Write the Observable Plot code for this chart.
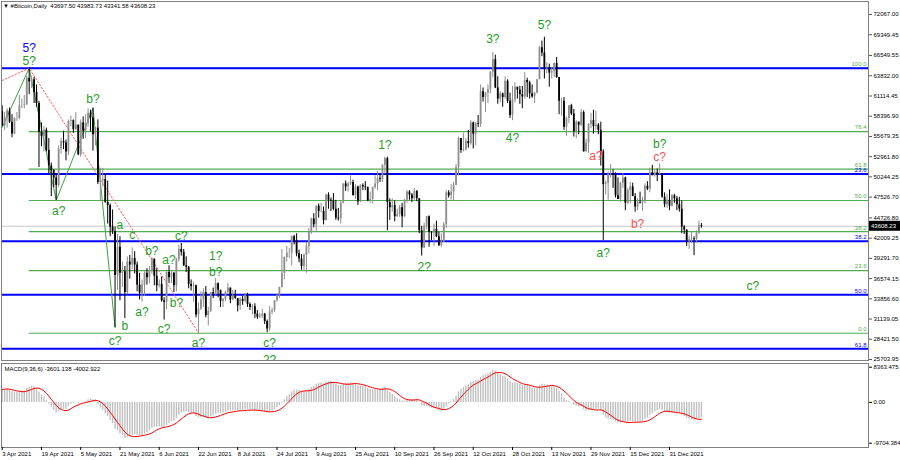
<!DOCTYPE html>
<html><head><meta charset="utf-8">
<script src="https://cdn.jsdelivr.net/npm/d3@7"></script>
<script src="https://cdn.jsdelivr.net/npm/@observablehq/plot@0.6"></script>
<style>
body{margin:0;background:#fff;font-family:"Liberation Sans",Arial,sans-serif;}
#wrap{position:relative;width:900px;height:460px;overflow:hidden;background:#fff;}
#main{position:absolute;left:0;top:0;}
#macd{position:absolute;left:0;top:361px;}
#hdr{position:absolute;left:3px;top:2px;font-size:6px;line-height:8px;color:#000;white-space:pre;}
</style></head>
<body><div id="wrap"><div id="main"></div><div id="macd"></div><div id="hdr"></div></div>
<script>
// ---------- data (prices in thousands USD) ----------
const startDate = "2021-04-03";
const firstOpen = 59.0;
const headerText = "\u25BC #Bitcoin,Daily  43697.50 43983.73 43341.58 43608.23";
const macdTitle = "MACD(9,36,6) -3601.138 -4002.922";

const closes = [
 57.1,58.2,59.1,57.6,56.0,58.1,58.1,59.8,59.8,59.9,63.5,63.0,63.3,61.6,60.1,56.2,55.7,56.5,53.8,51.7,51.1,50.1,49.1,54.0,55.0,54.8,53.6,57.7,
 57.8,56.6,57.2,53.2,57.5,56.4,57.4,58.8,58.2,55.9,56.8,49.5,49.7,49.9,46.8,46.4,43.5,42.9,37.0,40.8,37.3,37.5,34.7,38.8,38.4,39.3,38.4,35.7,34.6,35.7,37.3,
 36.7,37.6,39.2,36.9,35.6,35.8,33.6,33.4,37.4,36.7,37.3,35.6,39.1,40.5,40.1,38.3,38.1,35.8,35.5,35.6,31.7,32.5,33.7,34.7,31.6,32.2,34.7,34.5,35.9,35.0,
 33.5,33.8,34.7,35.3,33.7,34.2,33.9,32.9,33.8,33.5,34.3,33.1,32.7,32.8,31.8,31.4,31.5,31.8,30.8,29.8,32.1,32.3,33.6,34.3,35.4,37.3,39.4,40.0,40.0,42.2,41.6,
 39.9,39.2,38.2,39.7,40.9,42.8,44.6,43.8,46.3,45.6,45.6,44.4,47.8,47.1,47.0,45.9,44.7,44.6,46.7,49.3,48.9,49.3,49.5,47.7,48.9,46.9,49.1,48.9,48.8,47.0,47.2,
 48.8,49.3,50.0,49.9,51.8,52.7,46.8,46.1,46.4,44.9,45.2,46.1,44.9,47.1,48.2,47.8,47.3,48.3,47.3,43.0,40.7,43.6,44.9,42.8,42.7,43.2,42.2,41.0,41.5,43.8,
 48.1,47.7,48.2,49.1,51.5,55.4,53.8,53.9,55.0,54.7,57.5,56.0,57.4,57.3,61.7,60.9,61.5,62.0,64.3,66.0,62.2,60.7,61.4,60.9,63.1,60.4,58.5,60.6,62.3,61.9,61.3,
 61.0,63.2,62.9,61.4,61.0,61.5,63.3,67.6,66.9,64.9,64.9,64.2,64.4,65.5,63.6,60.4,60.4,56.9,58.1,59.8,58.7,56.3,57.6,57.2,58.9,53.6,54.8,57.3,57.8,57.0,
 57.2,56.5,53.6,49.2,49.4,50.6,50.6,50.5,47.7,47.2,49.4,50.1,46.7,48.4,48.9,47.6,46.2,46.8,46.7,46.9,49.0,48.6,50.8,50.4,50.8,50.6,50.7,47.5,46.5,47.1,46.3,
 47.7,47.3,46.5,45.9,43.5,43.1,41.6,41.8,41.9,41.8,42.7,43.6975,43.60823
];
const highs = [
 59.8,58.9,59.4,59.5,58.6,58.2,58.9,61.2,60.7,61.2,63.8,64.85,63.8,63.6,62.6,60.4,57.5,57.0,56.8,55.4,52.1,51.2,50.6,54.4,55.4,56.4,55.2,57.9,
 58.4,57.9,58.9,57.2,57.9,58.3,58.6,59.4,59.2,59.5,56.9,57.9,51.4,51.4,50.6,49.7,46.6,45.8,43.5,42.5,42.2,38.8,38.2,39.5,39.7,40.7,40.2,38.8,37.3,36.4,37.5,
 37.9,38.2,39.4,39.2,37.9,36.4,36.8,34.0,37.5,38.3,37.6,37.4,39.3,41.0,41.3,40.5,39.5,38.2,36.4,36.1,35.7,33.3,34.8,35.2,35.5,32.7,34.7,35.3,36.6,36.0,
 35.0,33.9,34.9,35.9,35.3,35.0,35.0,33.9,34.0,34.2,34.6,34.6,33.3,33.1,33.2,32.3,31.9,32.4,31.9,31.0,32.8,32.6,33.6,34.5,35.4,40.5,39.5,40.9,40.6,42.3,42.4,
 42.6,40.4,39.8,39.9,41.4,43.3,44.7,45.3,46.4,46.6,46.7,46.2,47.9,48.1,47.4,48.0,47.1,46.0,47.0,49.3,49.7,49.5,50.4,49.8,49.2,49.0,49.2,49.3,49.6,48.9,48.2,
 48.9,50.4,51.0,50.6,51.9,52.9,52.9,47.3,47.3,47.0,45.9,46.4,46.7,47.2,48.4,48.4,48.0,48.7,48.4,47.3,43.6,44.0,44.9,45.0,42.9,43.9,44.3,42.8,42.6,44.1,
 48.4,48.4,49.2,49.5,51.9,55.6,55.3,56.1,55.4,56.5,57.8,57.6,57.6,58.5,62.6,62.2,61.6,62.6,64.4,67.0,66.6,63.7,61.7,61.5,63.7,63.3,61.5,62.4,62.9,62.3,62.4,
 62.4,64.3,63.5,63.1,62.6,61.6,63.3,67.8,68.5,69.0,65.6,65.4,64.9,65.5,66.3,63.6,60.8,60.9,58.3,59.8,60.0,59.3,57.8,57.6,59.3,59.1,55.3,57.4,58.8,59.2,
 59.1,57.4,57.6,53.9,49.7,50.9,51.9,51.2,50.8,50.1,49.5,50.7,50.2,48.7,49.5,49.4,48.0,47.3,48.2,47.5,49.3,49.6,51.4,51.8,51.2,51.3,52.0,50.7,48.1,47.9,48.5,
 47.9,47.9,47.6,47.5,47.0,43.7,43.1,42.3,42.8,42.2,43.0,44.3,43.98373
];
const lows = [
 57.0,56.5,56.8,57.4,55.5,55.9,57.7,57.9,59.4,59.4,59.9,61.3,62.1,60.1,59.6,51.5,54.3,53.6,53.6,50.6,47.6,48.8,47.1,48.8,53.3,53.9,52.4,53.1,
 57.0,56.1,56.5,53.1,52.9,55.3,55.4,56.9,56.3,53.7,54.4,49.2,46.9,48.9,46.7,43.9,42.2,42.5,30.0,35.0,33.6,35.4,31.2,34.4,36.5,37.8,37.2,34.8,33.7,33.4,34.2,
 35.7,35.9,37.2,35.6,34.8,35.3,33.4,31.0,32.4,35.9,35.9,34.7,34.8,38.8,39.6,38.2,37.4,35.2,34.9,33.4,31.3,29.3,32.3,32.7,31.3,30.2,32.0,33.9,34.3,34.0,
 32.7,32.7,33.5,34.5,33.2,33.6,33.8,32.1,32.3,33.0,33.3,32.7,32.3,31.7,31.2,31.1,31.2,31.2,30.4,29.3,29.5,31.7,32.0,33.4,33.9,35.3,36.4,38.8,39.3,38.3,41.1,
 39.5,38.7,37.7,37.6,37.3,39.9,42.5,43.4,42.9,44.7,45.4,43.8,44.3,45.9,45.6,45.7,44.4,44.3,43.9,46.6,48.3,48.2,49.1,47.7,47.2,46.4,46.8,48.4,48.4,46.9,46.7,
 46.6,48.6,48.4,49.5,49.5,50.6,43.0,44.4,45.5,44.2,44.8,44.8,43.4,44.8,46.7,47.1,46.8,47.1,46.9,42.6,39.6,40.6,43.1,40.8,41.7,40.9,42.1,40.9,40.8,41.4,
 43.3,47.4,47.1,46.9,49.1,50.4,53.4,53.6,53.7,54.1,54.5,54.0,54.4,56.9,56.9,60.3,58.9,60.1,61.4,63.6,62.1,60.0,60.2,59.6,60.7,60.1,58.1,57.8,60.2,60.7,60.0,
 59.4,60.7,60.9,60.7,60.8,60.1,61.4,63.3,66.4,63.4,64.1,62.3,63.4,63.6,63.5,58.6,58.4,56.5,55.7,57.4,58.5,55.6,55.4,55.9,57.0,53.6,53.7,53.4,56.7,56.0,
 56.5,55.9,51.7,41.7,47.8,47.1,50.1,48.7,47.4,47.2,46.8,48.7,45.7,46.5,46.6,47.6,45.5,45.7,46.6,45.6,46.6,48.4,48.1,50.4,50.2,49.6,50.5,47.4,46.1,46.0,45.7,
 46.2,46.7,45.7,45.5,42.6,42.5,40.9,40.5,41.3,39.65,41.3,42.5,43.34158
];
// closes Mar 1 - Apr 2 2021, used only to warm up the MACD averages
const warmupCloses = [49.6,48.4,50.5,48.4,48.8,48.9,51.0,52.4,54.9,55.9,57.3,57.2,61.2,59.0,55.6,56.9,58.9,57.6,58.3,58.1,57.4,54.5,54.3,52.3,51.3,55.1,55.8,55.8,57.6,58.8,58.7,59.0,59.0];
const warmupEma = {fast: 48.0, slow: 44.0};

// right price-axis tick labels
const priceTicks = [72067.00,69349.45,66549.55,63832.00,61114.45,58396.90,55679.35,52961.80,50244.25,47526.70,44726.80,42009.25,39291.70,36574.15,33856.60,31139.05,28421.50,25703.95];
const macdTicks = [8363.475, 0, -9704.384];
const macdTickLabels = ["8363.475","0.00","-9704.384"];
const dateTicks = ["2021-04-03","2021-04-19","2021-05-05","2021-05-21","2021-06-06","2021-06-22","2021-07-08","2021-07-24","2021-08-09","2021-08-25","2021-09-10","2021-09-26","2021-10-12","2021-10-28","2021-11-13","2021-11-29","2021-12-15","2021-12-31"];

// Fibonacci levels (price)
const greenFibStart = "2021-04-14";
const greenFibEnd = "2022-06-30";
const greenFibLevels = ["100.0","76.4","61.8","50.0","38.2","23.6","0.0"];
const greenFibPrices = [64850,56340,51300,47070,42880,37660,29230];
const blueFibLevels = ["","23.6","38.2","50.0","61.8"];
const blueFibPrices = [64850,50630,41600,34400,27140];

// wave lines
const zigzagDates = ["2021-04-03","2021-04-14","2021-04-25","2021-05-10","2021-05-19"];
const zigzagPrices = [56900,64850,47100,59450,30000];
const dottedDates = ["2021-04-03","2021-04-14","2021-06-22"];
const dottedPrices = [63200,64850,29300];

// wave labels
const greenLabelText = ["5?","b?","a?","a","c","b?","c?","a?","1?","b?","b?","a?","c?","b","c?","a?","c?","1?","2?","4?","3?","5?","b?","a?","c?"];
const greenLabelDates = ["2021-04-14","2021-05-10","2021-04-26","2021-05-21","2021-05-26","2021-06-03","2021-06-15","2021-06-10","2021-06-29","2021-06-29","2021-06-13","2021-05-30","2021-06-08","2021-05-23","2021-05-19","2021-06-22","2021-07-21","2021-09-06","2021-09-22","2021-10-28","2021-10-20","2021-11-10","2021-12-27","2021-12-04","2022-02-03"];
const greenLabelPrices = [65800,60650,45700,43700,42350,40200,42300,39100,39600,37500,33250,32050,29800,30250,28150,27900,27900,54550,38100,55500,68700,70700,54700,40000,35500];
const clippedLabel = {text:"2?", date:"2021-07-21", price:25560};
const blueLabelText = ["5?"];
const blueLabelDates = ["2021-04-14"];
const blueLabelPrices = [67500];
const redLabelText = ["a?","c?","b?"];
const redLabelDates = ["2021-12-01","2021-12-27","2021-12-18"];
const redLabelPrices = [53050,52950,43900];

// ---------- build tables ----------
const DAY = 864e5;
const t0 = new Date(startDate + "T00:00:00Z");
const candles = closes.map((c, i) => ({
  date: new Date(+t0 + i * DAY),
  open: (i === 0 ? firstOpen : closes[i - 1]) * 1000,
  high: highs[i] * 1000, low: lows[i] * 1000, close: c * 1000
}));
const lastClose = candles[candles.length - 1].close;
const toD = s => new Date(s + "T00:00:00Z");

// MACD(9,36,6): EMA9-EMA36 histogram, SMA6 signal (as MetaTrader)
const allC = warmupCloses.concat(closes).map(v => v * 1000);
let ef = warmupEma.fast * 1000, es = warmupEma.slow * 1000;
const m = [];
for (const c of allC) { ef += 0.2 * (c - ef); es += (2 / 37) * (c - es); m.push(ef - es); }
const off = warmupCloses.length;
const macdData = candles.map((d, i) => {
  const k = off + i;
  const sig = d3.mean(m.slice(k - 5, k + 1));
  return {date: d.date, hist: m[k], signal: sig};
});

const greenFib = greenFibLevels.map((l, i) => ({level: l, price: greenFibPrices[i], start: toD(greenFibStart), end: toD(greenFibEnd)}));
const blueFib = blueFibLevels.map((l, i) => ({level: l, price: blueFibPrices[i]}));
const mk = (txt, ds, ps) => txt.map((t, i) => ({text: t, date: toD(ds[i]), price: ps[i]}));
const greenLbl = mk(greenLabelText, greenLabelDates, greenLabelPrices);
const blueLbl = mk(blueLabelText, blueLabelDates, blueLabelPrices);
const redLbl = mk(redLabelText, redLabelDates, redLabelPrices);
const zigzag = zigzagDates.map((d, i) => ({date: toD(d), price: zigzagPrices[i]}));
const dotted = dottedDates.map((d, i) => ({date: toD(d), price: dottedPrices[i]}));

// ---------- styles ----------
const GREEN = "#1f9d1f", FIBG = "#52ad52", BLUE = "#0000ff", RED = "#ff4d4d";
const BULL = "#8e8e8e", BEAR = "#000000";
const xDom = [toD("2021-04-03"), toD("2021-12-31")];
const xRange = [1.7, 669];
const font = "Liberation Sans, Arial, sans-serif";
const LBL = 12;

const main = Plot.plot({
  width: 900, height: 361,
  marginLeft: 1, marginRight: 32, marginTop: 1, marginBottom: 1,
  x: {type: "utc", domain: xDom, range: xRange, axis: null, label: null},
  y: {domain: [25703.95, 72067], range: [359, 14], label: null},
  style: {fontFamily: font, fontSize: "6px", color: "#000", background: "transparent", overflow: "visible"},
  marks: [
    Plot.ruleY([lastClose], {stroke: "#c8c8c8", strokeWidth: 1}),
    Plot.ruleY(greenFib, {y: "price", x1: "start", x2: "end", stroke: FIBG, strokeWidth: 1.2, clip: "frame"}),
    Plot.ruleY(blueFib, {y: "price", stroke: BLUE, strokeWidth: 2}),
    Plot.text(greenFib, {y: "price", text: "level", frameAnchor: "right", textAnchor: "end", dx: -2, dy: -4, fill: FIBG, fontSize: 6}),
    Plot.text(blueFib, {y: "price", text: "level", frameAnchor: "right", textAnchor: "end", dx: -2, dy: -4, fill: BLUE, fontSize: 6}),
    Plot.line(dotted, {x: "date", y: "price", stroke: "#ff5a5a", strokeWidth: 1, strokeDasharray: "1.5,2"}),
    Plot.line(zigzag, {x: "date", y: "price", stroke: "#3ea33e", strokeWidth: 1}),
    Plot.ruleX(candles, {x: "date", y1: "low", y2: "high", stroke: d => d.close >= d.open ? BULL : BEAR, strokeWidth: 1}),
    Plot.ruleX(candles, {x: "date", y1: "open", y2: "close", stroke: d => d.close >= d.open ? BULL : BEAR, strokeWidth: 1.8}),
    Plot.text(greenLbl, {x: "date", y: "price", text: "text", fill: GREEN, fontSize: LBL}),
    Plot.text([clippedLabel], {x: d => toD(d.date), y: "price", text: "text", fill: GREEN, fontSize: LBL, clip: "frame"}),
    Plot.text(blueLbl, {x: "date", y: "price", text: "text", fill: BLUE, fontSize: LBL}),
    Plot.text(redLbl, {x: "date", y: "price", text: "text", fill: RED, fontSize: LBL}),
    Plot.frame({stroke: "#808080"}),
    Plot.axisY(priceTicks, {anchor: "right", tickSize: 3, tickPadding: 2, tickFormat: d => d.toFixed(2), fontSize: 6, stroke: "#555"})
  ]
});
document.getElementById("main").appendChild(main);

// current price tag on the axis
const yS = main.scale("y");
const ty = yS.apply(lastClose);
const svgM = d3.select(main);
svgM.append("rect").attr("x", 869).attr("y", ty - 5).attr("width", 31).attr("height", 10).attr("fill", "#000");
svgM.append("text").attr("x", 871).attr("y", ty).attr("dy", "0.35em").attr("fill", "#fff")
  .attr("text-anchor", "start").attr("font-size", 6).attr("font-family", font).text(lastClose.toFixed(2));

const macd = Plot.plot({
  width: 900, height: 99,
  marginLeft: 1, marginRight: 32, marginTop: 2, marginBottom: 13,
  x: {type: "utc", domain: xDom, range: xRange, label: null},
  y: {domain: [-9704.384, 8363.475], range: [81.7, 5.7], label: null},
  style: {fontFamily: font, fontSize: "6px", color: "#000", background: "transparent", overflow: "visible"},
  marks: [
    Plot.ruleX(macdData, {x: "date", y1: 0, y2: "hist", stroke: "#c0c0c0", strokeWidth: 1.4}),
    Plot.line(macdData, {x: "date", y: "signal", stroke: "#ff0000", strokeWidth: 1}),
    Plot.frame({stroke: "#808080"}),
    Plot.text([macdTitle], {text: d => d, frameAnchor: "top-left", dx: 3, dy: 3, textAnchor: "start", lineAnchor: "top", fontSize: 6}),
    Plot.axisY(macdTicks, {anchor: "right", tickSize: 3, tickPadding: 2, tickFormat: d => macdTickLabels[macdTicks.indexOf(d)], fontSize: 6}),
    Plot.axisX(dateTicks.map(toD), {anchor: "bottom", tickSize: 3, tickPadding: 1, textAnchor: "start", tickFormat: d3.utcFormat("%-d %b %Y"), fontSize: 6})
  ]
});
document.getElementById("macd").appendChild(macd);
document.getElementById("hdr").textContent = headerText;
</script>
</body></html>
